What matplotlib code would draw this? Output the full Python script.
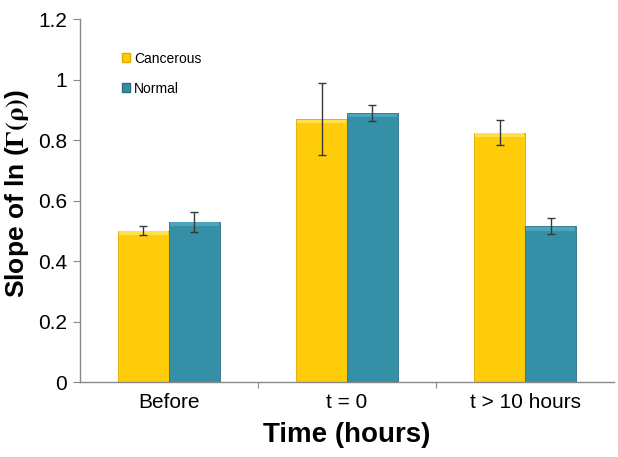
import matplotlib
matplotlib.use("Agg")
import matplotlib.pyplot as plt
import numpy as np
from matplotlib.patches import Patch

plt.rcParams["font.family"] = ["Liberation Sans", "DejaVu Sans"]
plt.rcParams["mathtext.fontset"] = "stix"

categories = ["Before", "t = 0", "t > 10 hours"]
cancerous = [0.50, 0.87, 0.825]
cancerous_err = [0.015, 0.12, 0.04]
normal = [0.53, 0.89, 0.515]
normal_err = [0.033, 0.027, 0.026]
yticks = [0, 0.2, 0.4, 0.6, 0.8, 1.0, 1.2]
yticklabels = ["0", "0.2", "0.4", "0.6", "0.8", "1", "1.2"]

c_yellow = "#FFCC0A"
c_teal = "#358FA6"

fig = plt.figure(figsize=(6.18, 4.57), dpi=100)
ax = fig.add_axes([0.129, 0.164, 0.865, 0.794])

x = np.arange(len(categories))
w = 0.285
b1 = ax.bar(x - w/2, cancerous, w, color=c_yellow, edgecolor="#E0A800", linewidth=0.6, zorder=2)
b2 = ax.bar(x + w/2, normal, w, color=c_teal, edgecolor="#2A7085", linewidth=0.6, zorder=2)
# top highlight strips (bevel look)
for bars, col in ((b1, "#FFE04A"), (b2, "#4BA5BD")):
    for r in bars:
        ax.bar(r.get_x() + r.get_width()/2, 0.012, r.get_width()*0.96, bottom=r.get_height()-0.014,
               color=col, linewidth=0, zorder=3)
ax.errorbar(x - w/2, cancerous, yerr=cancerous_err, fmt="none", ecolor="#383838",
            elinewidth=1, capsize=3, capthick=1, zorder=4)
ax.errorbar(x + w/2, normal, yerr=normal_err, fmt="none", ecolor="#383838",
            elinewidth=1, capsize=3, capthick=1, zorder=4)

ax.set_xlim(-0.5, 2.5)
ax.set_ylim(0, 1.2)
ax.set_yticks(yticks)
ax.set_yticklabels(yticklabels, fontsize=15)
ax.set_xticks([0.5, 1.5], minor=False)
ax.set_xticklabels([])
ax.set_xticks(x, minor=True)
ax.set_xticklabels(categories, minor=True, fontsize=15)
ax.tick_params(axis="x", which="minor", length=0, pad=8)
ax.tick_params(axis="x", which="major", length=4, color="#888888")
ax.tick_params(axis="y", length=5, color="#888888", pad=4)

for s in ("top", "right"):
    ax.spines[s].set_visible(False)
for s in ("left", "bottom"):
    ax.spines[s].set_color("#888888")
    ax.spines[s].set_linewidth(1)

ax.set_xlabel("Time (hours)", fontsize=20, fontweight="bold", labelpad=7)
ax.set_ylabel(r"Slope of ln ($\mathbf{\Gamma(\rho)}$)", fontsize=19, fontweight="bold")
ax.yaxis.set_label_coords(-0.092, 0.52)

handles = [Patch(facecolor=c_yellow, edgecolor="#E0A800"), Patch(facecolor=c_teal, edgecolor="#2A7085")]
ax.legend(handles, ["Cancerous", "Normal"], loc="upper left", bbox_to_anchor=(0.055, 0.945),
          frameon=False, fontsize=10, handlelength=0.6, handleheight=0.6, handletextpad=0.3,
          labelspacing=1.15)

fig.savefig("out.png", dpi=100)
